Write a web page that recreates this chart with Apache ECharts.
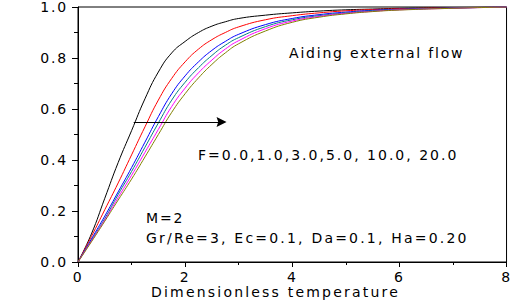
<!DOCTYPE html>
<html><head><meta charset="utf-8">
<script src="https://cdn.jsdelivr.net/npm/echarts@6/dist/echarts.min.js"></script>
<style>
html,body{margin:0;padding:0;background:#fff}
#c{width:514px;height:302px}
#c text{letter-spacing:1.8px}
#c text.wide{letter-spacing:2.2px}
#c text.mid{letter-spacing:2.0px}
</style>
</head><body><div id="c"></div><script>
const xVals=[0,0.25,0.5,0.75,1,1.25,1.5,1.75,2,2.25,2.5,2.75,3,3.5,4,4.5,5,5.5,6,7,8];
const F0 =[0,0.11,0.25,0.39,0.515,0.64,0.745,0.82,0.865,0.90,0.925,0.942,0.955,0.968,0.977,0.984,0.989,0.992,0.995,0.998,1.0];
const F1 =[0,0.10,0.205,0.31,0.42,0.53,0.635,0.72,0.785,0.835,0.872,0.90,0.922,0.950,0.966,0.977,0.985,0.99,0.993,0.997,1.0];
const F3 =[0,0.09,0.18,0.275,0.37,0.47,0.57,0.66,0.73,0.785,0.83,0.865,0.893,0.931,0.955,0.97,0.98,0.987,0.991,0.996,1.0];
const F5 =[0,0.085,0.17,0.265,0.355,0.45,0.545,0.635,0.705,0.762,0.81,0.85,0.880,0.923,0.95,0.966,0.977,0.985,0.99,0.996,1.0];
const F10=[0,0.082,0.165,0.253,0.34,0.43,0.52,0.61,0.682,0.742,0.792,0.835,0.868,0.915,0.945,0.963,0.975,0.983,0.989,0.995,1.0];
const F20=[0,0.079,0.16,0.243,0.325,0.412,0.5,0.587,0.66,0.722,0.775,0.82,0.856,0.906,0.94,0.96,0.973,0.982,0.988,0.995,1.0];
const seriesNames=['F=0.0','F=1.0','F=3.0','F=5.0','F=10.0','F=20.0'];
const seriesVals=[F0,F1,F3,F5,F10,F20];
const colors=['#000000','#ff0000','#0000ff','#008080','#ff00ff','#808000'];
const arrowFrom=[1.04,0.549], arrowTo=[2.68,0.549];
const xTicks={min:0,max:8,interval:2};
const yTicks={min:0,max:1,interval:0.2};
const textFont='"DejaVu Sans", sans-serif';

const chart=echarts.init(document.getElementById('c'),null,{renderer:'svg'});
const series=seriesVals.map((v,i)=>({
  name:seriesNames[i],type:'line',data:xVals.map((x,j)=>[x,v[j]]),
  showSymbol:false,smooth:0.5,
  lineStyle:{color:colors[i],width:1},itemStyle:{color:colors[i]},z:2
}));
series.push({
  type:'line',data:[],silent:true,
  markLine:{
    silent:true,symbol:['none','path://M3,0 L6,12 L3,10 L0,12 Z'],symbolSize:10,
    lineStyle:{color:'#000',width:1,type:'solid'},itemStyle:{color:'#000'},label:{show:false},
    emphasis:{disabled:true},
    data:[[{coord:arrowFrom},{coord:arrowTo}]]
  }
});
const axisLbl={color:'#000',fontSize:14,fontFamily:textFont};
const ts={font:'14px '+textFont,fill:'#000'};
chart.setOption({
  animation:false,
  grid:{left:78,right:7,top:5,bottom:40,show:true,borderColor:'#000',borderWidth:1,backgroundColor:'transparent'},
  xAxis:{type:'value',min:xTicks.min,max:xTicks.max,interval:xTicks.interval,
    axisLine:{show:true,lineStyle:{color:'#000',width:1}},
    axisTick:{show:true,inside:false,length:5,lineStyle:{color:'#000'}},
    minorTick:{show:true,splitNumber:2,length:3,lineStyle:{color:'#000'}},
    splitLine:{show:false},
    axisLabel:Object.assign({margin:8},axisLbl)},
  yAxis:{type:'value',min:yTicks.min,max:yTicks.max,interval:yTicks.interval,
    axisLine:{show:true,lineStyle:{color:'#000',width:1}},
    axisTick:{show:true,inside:false,length:6,lineStyle:{color:'#000'}},
    minorTick:{show:true,splitNumber:2,length:4,lineStyle:{color:'#000'}},
    splitLine:{show:false},
    axisLabel:Object.assign({margin:10,formatter:v=>v.toFixed(1)},axisLbl)},
  graphic:[
    {type:'text',left:289,top:46,style:Object.assign({text:'Aiding external flow'},ts)},
    {type:'text',left:198,top:148,style:Object.assign({text:'F=0.0,1.0,3.0,5.0, 10.0, 20.0'},ts)},
    {type:'text',left:146,top:211,style:Object.assign({text:'M=2'},ts)},
    {type:'text',left:146,top:231,style:Object.assign({text:'Gr/Re=3, Ec=0.1, Da=0.1, Ha=0.20'},ts)},
    {type:'text',left:151,top:285,style:Object.assign({text:'Dimensionless temperature'},ts)}
  ],
  series:series
});
document.querySelectorAll('#c text').forEach(t=>{
  const s=t.textContent;
  if(s.indexOf('Gr/Re')===0||s.indexOf('Dimensionless')===0) t.classList.add('wide');
  else if(s.indexOf('F=0.0')===0) t.classList.add('mid');
});
</script></body></html>
